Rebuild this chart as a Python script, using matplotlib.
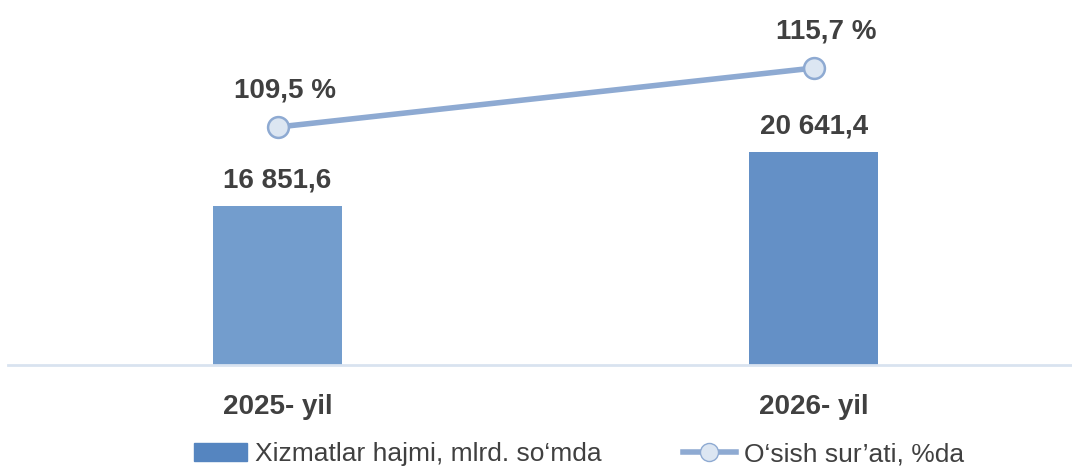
import numpy as np
import matplotlib.pyplot as plt
from matplotlib.patches import Patch
from matplotlib.lines import Line2D

plt.rcParams['font.family'] = ['Liberation Sans', 'DejaVu Sans']

# Dades
categories = ['2025- yil', '2026- yil']
hajm = [16851.6, 20641.4]
osish = [109.5, 115.7]
hajm_labels = ['16 851,6', '20 641,4']
osish_labels = ['109,5 %', '115,7 %']

bar_colors = ['#739dcd', '#6490c6']
line_color = '#8eaad2'
text_color = '#404040'

fig = plt.figure(figsize=(10.72, 4.71), dpi=100)
ax = fig.add_axes([8 / 1072, 106 / 471, 1064 / 1072, 365 / 471])

x = np.arange(len(categories))
ax.bar(x, hajm, width=0.24, color=bar_colors, zorder=2)
ax.set_ylim(5693, 31309)
ax.set_xlim(-0.503, 1.482)

for xi, v, lab in zip(x, hajm, hajm_labels):
    ax.annotate(lab, (xi, v), xytext=(0, 9), textcoords='offset points',
                ha='center', va='bottom', fontsize=20, fontweight='bold',
                color=text_color)

ax2 = ax.twinx()
ax2.plot(x, osish, color=line_color, lw=4, marker='o', markersize=15,
         markerfacecolor='#dce6f2', markeredgecolor=line_color,
         markeredgewidth=1.8, zorder=3)
ax2.set_ylim(84.5, 122.85)
# etiquetes de % una mica desplaçades a la dreta, com a l'original
dx = [5, 9]
for xi, v, lab, d in zip(x, osish, osish_labels, dx):
    ax2.annotate(lab, (xi, v), xytext=(d, 17), textcoords='offset points',
                 ha='center', va='bottom', fontsize=20, fontweight='bold',
                 color=text_color)

for a in (ax, ax2):
    for s in a.spines.values():
        s.set_visible(False)
    a.set_yticks([])
ax.spines['bottom'].set_visible(True)
ax.spines['bottom'].set_color('#d9e3f0')
ax.spines['bottom'].set_linewidth(2)

ax.set_xticks(x)
ax.set_xticklabels(categories, fontsize=20, fontweight='bold', color=text_color)
ax.tick_params(axis='x', length=0, pad=21)

handles = [Patch(color='#5585c0', label='Xizmatlar hajmi, mlrd. so‘mda'),
           Line2D([0], [0], color=line_color, lw=4, marker='o', markersize=13,
                  markerfacecolor='#dce6f2', markeredgecolor=line_color,
                  label='O‘sish sur’ati, %da')]
fig.legend(handles=handles, loc='lower center', bbox_to_anchor=(0.54, -0.04),
           ncol=2, frameon=False, fontsize=19, handlelength=2.0,
           handletextpad=0.3, columnspacing=3.1, labelcolor=text_color)

fig.savefig('out.png', dpi=100)
